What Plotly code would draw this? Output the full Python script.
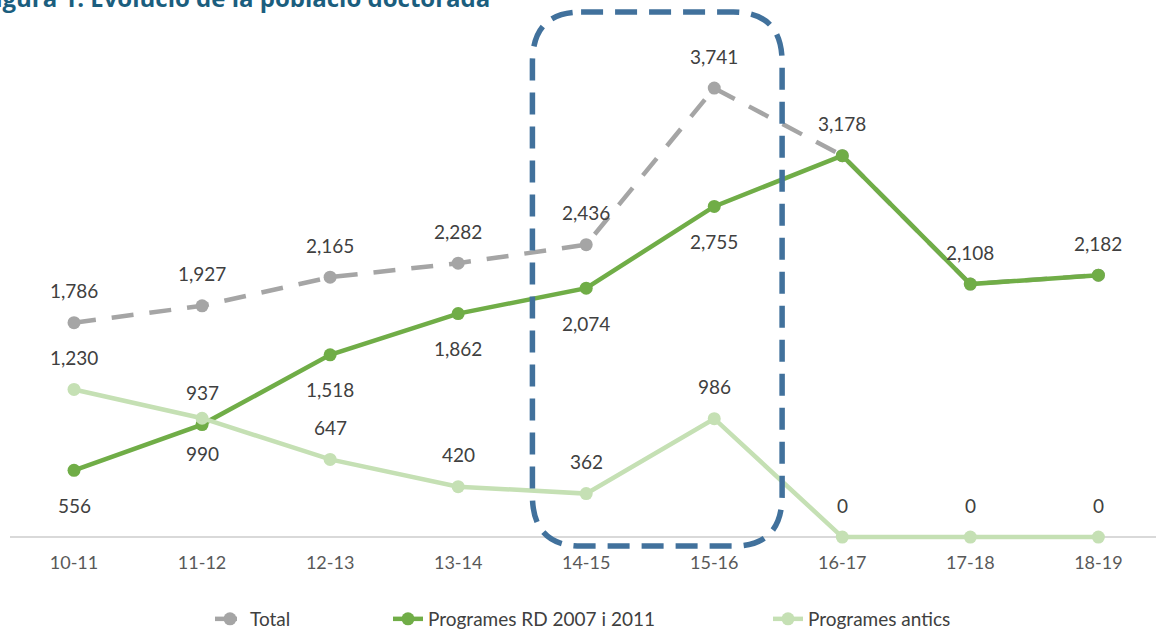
import plotly.graph_objects as go

categories = ["10-11", "11-12", "12-13", "13-14", "14-15", "15-16", "16-17", "17-18", "18-19"]
total = [1786, 1927, 2165, 2282, 2436, 3741, 3178, 2108, 2182]
rd = [556, 937, 1518, 1862, 2074, 2755, 3178, 2108, 2182]
antics = [1230, 990, 647, 420, 362, 986, 0, 0, 0]

# label placement: +1 above, -1 below, 0 hidden
total_pos = [1, 1, 1, 1, 1, 1, 0, 0, 0]
rd_pos = [-1, 1, -1, -1, -1, -1, 1, 1, 1]
antics_pos = [1, -1, 1, 1, 1, 1, 1, 1, 1]

x = list(range(len(categories)))

C_TOTAL = "#a5a5a5"
C_RD = "#70ad47"
C_ANT = "#c5e0b4"
C_BOX = "#41719c"

W, H = 1156, 633
L, T, B = 10, 0, 83
PW, PH = W - L, H - T - B


def px_x(p):
    return (p - L) / PW


def px_y(p):
    return (H - B - p) / PH


fig = go.Figure()
fig.add_trace(go.Scatter(x=x, y=total, name="Total", mode="lines+markers", legend="legend",
                         line=dict(color=C_TOTAL, width=4.5, dash="22px,16px"),
                         marker=dict(color=C_TOTAL, size=13)))
fig.add_trace(go.Scatter(x=x, y=rd, name="Programes RD 2007 i 2011", mode="lines+markers", legend="legend2",
                         line=dict(color=C_RD, width=4.5),
                         marker=dict(color=C_RD, size=13)))
fig.add_trace(go.Scatter(x=x, y=antics, name="Programes antics", mode="lines+markers", legend="legend3",
                         line=dict(color=C_ANT, width=4.5),
                         marker=dict(color=C_ANT, size=13)))

annotations = []
for series, pos in ((total, total_pos), (rd, rd_pos), (antics, antics_pos)):
    for xi, v, p in zip(x, series, pos):
        if p == 0:
            continue
        annotations.append(dict(x=xi, y=v, xref="x", yref="y", text=f"{v:,}",
                                showarrow=False, yshift=32 if p > 0 else -35,
                                font=dict(family="Lato", size=19, color="#404040")))

annotations.append(dict(x=px_x(-20), y=px_y(16), xref="paper", yref="paper",
                        text="<b>Figura 1. Evolució de la població doctorada</b>",
                        showarrow=False, xanchor="left", yanchor="bottom",
                        font=dict(family="Open Sans", size=24, color="#1b5e7e")))

# rounded dashed highlight box around 14-15 / 15-16
x0, x1 = 3.58, 5.53
yb, yt = -75, 4375
rx, ry = 0.38, 420
path = (f"M {x0+rx},{yt} L {x1-rx},{yt} Q {x1},{yt} {x1},{yt-ry} "
        f"L {x1},{yb+ry} Q {x1},{yb} {x1-rx},{yb} L {x0+rx},{yb} "
        f"Q {x0},{yb} {x0},{yb+ry} L {x0},{yt-ry} Q {x0},{yt} {x0+rx},{yt} Z")

leg_font = dict(family="Lato", size=19, color="#404040")
leg_y = px_y(619)


def leg(px):
    return dict(orientation="h", x=px_x(px), xanchor="left", y=leg_y, yanchor="middle",
                font=leg_font, bgcolor="rgba(0,0,0,0)")


fig.update_layout(
    width=W, height=H,
    margin=dict(l=L, r=0, t=T, b=B, autoexpand=False),
    plot_bgcolor="white", paper_bgcolor="white",
    showlegend=True,
    legend=leg(210),
    legend2=leg(388),
    legend3=leg(768),
    annotations=annotations,
    shapes=[dict(type="path", path=path, xref="x", yref="y",
                 line=dict(color=C_BOX, width=5.5, dash="22px,12px"), layer="above")],
)
fig.update_xaxes(range=[-0.5, 8.45], tickvals=x, ticktext=categories, showgrid=False,
                 showline=False, zeroline=False, ticks="",
                 tickfont=dict(family="Lato", size=18, color="#595959"))
fig.update_yaxes(range=[-108, 4475], visible=True, showticklabels=False, showgrid=False,
                 zeroline=True, zerolinecolor="#d9d9d9", zerolinewidth=2, showline=False)

fig.write_html("out.html", config={"displayModeBar": False},
               post_script="document.body.style.margin='0px';")
